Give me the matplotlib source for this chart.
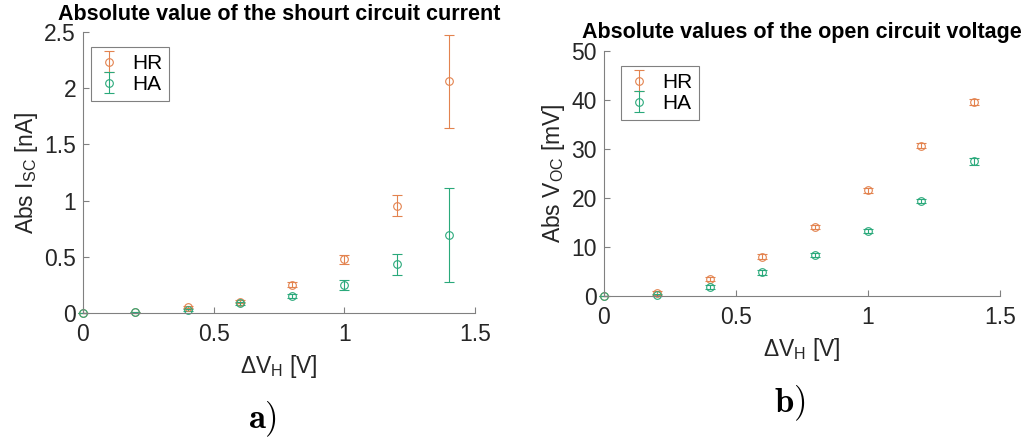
import matplotlib
matplotlib.use('Agg')
import matplotlib.pyplot as plt

plt.rcParams['font.family'] = ['Liberation Sans', 'DejaVu Sans']
plt.rcParams['mathtext.fontset'] = 'custom'
plt.rcParams['mathtext.rm'] = 'Liberation Sans'
plt.rcParams['mathtext.it'] = 'Liberation Sans'

# heater voltage steps
dvh = [0.0, 0.2, 0.4, 0.6, 0.8, 1.0, 1.2, 1.4]

# short circuit current [nA]
isc_hr = [0.0, 0.006, 0.056, 0.10, 0.25, 0.48, 0.955, 2.06]
isc_hr_err = [0.0, 0.005, 0.01, 0.015, 0.022, 0.04, 0.093, 0.415]
isc_ha = [0.0, 0.006, 0.03, 0.085, 0.152, 0.249, 0.432, 0.694]
isc_ha_err = [0.0, 0.005, 0.01, 0.012, 0.02, 0.043, 0.093, 0.415]

# open circuit voltage [mV]
voc_hr = [0.0, 0.54, 3.46, 8.02, 14.06, 21.6, 30.64, 39.67]
voc_hr_err = [0.0, 0.4, 0.45, 0.45, 0.45, 0.5, 0.5, 0.6]
voc_ha = [0.0, 0.2, 1.77, 4.82, 8.29, 13.3, 19.36, 27.45]
voc_ha_err = [0.0, 0.3, 0.4, 0.45, 0.4, 0.45, 0.45, 0.8]

c_hr = '#e3834f'
c_ha = '#2aa97b'
gray = '#808080'
txt = '#262626'

fig = plt.figure(figsize=(10.27, 4.41), dpi=100)
ax1 = fig.add_axes([0.0808, 0.2902, 0.3817, 0.6372])
ax2 = fig.add_axes([0.5881, 0.3288, 0.3856, 0.5556])


def style(ax, ylim, yticks, ylabel, title, legpos):
    for s in ['top', 'right']:
        ax.spines[s].set_visible(False)
    for s in ['left', 'bottom']:
        ax.spines[s].set_color(gray)
        ax.spines[s].set_linewidth(0.8)
    ax.set_xlim(0, 1.5)
    ax.set_ylim(*ylim)
    ax.set_xticks([0, 0.5, 1, 1.5])
    ax.set_xticklabels(['0', '0.5', '1', '1.5'])
    ax.set_yticks(yticks)
    ax.set_yticklabels([('%g' % v) for v in yticks])
    ax.tick_params(direction='in', length=4, width=0.8, color=gray,
                   labelsize=16.5, labelcolor=txt)
    ax.tick_params(axis='x', pad=7)
    ax.tick_params(axis='y', pad=5)
    ax.set_xlabel(r'$\Delta$V$_\mathrm{H}$ [V]', fontsize=16.5, color=txt, labelpad=5)
    ax.set_ylabel(ylabel, fontsize=16.5, color=txt, labelpad=3)
    ax.set_title(title, fontsize=15.5, fontweight='bold', pad=9)
    leg = ax.legend(loc='upper left', bbox_to_anchor=legpos, fontsize=15,
                    fancybox=False, framealpha=1, edgecolor=gray,
                    handlelength=1.0, handletextpad=0.6, borderpad=0.35,
                    borderaxespad=0.3, labelspacing=0.1)
    leg.get_frame().set_linewidth(0.8)


kw = dict(fmt='o', ms=5.5, mfc='none', mew=0.8, elinewidth=0.8, capsize=3.5,
          capthick=0.8, clip_on=False)

ax1.errorbar(dvh, isc_hr, yerr=isc_hr_err, color=c_hr, label='HR', **kw)
ax1.errorbar(dvh, isc_ha, yerr=isc_ha_err, color=c_ha, label='HA', **kw)
style(ax1, (0, 2.5), [0, 0.5, 1, 1.5, 2, 2.5], r'Abs I$_\mathrm{SC}$ [nA]',
      'Absolute value of the shourt circuit current', (0.005, 0.97))

ax2.errorbar(dvh, voc_hr, yerr=voc_hr_err, color=c_hr, label='HR', **kw)
ax2.errorbar(dvh, voc_ha, yerr=voc_ha_err, color=c_ha, label='HA', **kw)
style(ax2, (0, 50), [0, 10, 20, 30, 40, 50], r'Abs V$_\mathrm{OC}$ [mV]',
      'Absolute values of the open circuit voltage', (0.028, 0.965))

fig.text(0.256, 0.05, r'$\mathbf{a)}$', fontsize=25, ha='center', va='center',
         math_fontfamily='cm')
fig.text(0.769, 0.086, r'$\mathbf{b)}$', fontsize=25, ha='center', va='center',
         math_fontfamily='cm')

fig.savefig('out.png', dpi=100)
